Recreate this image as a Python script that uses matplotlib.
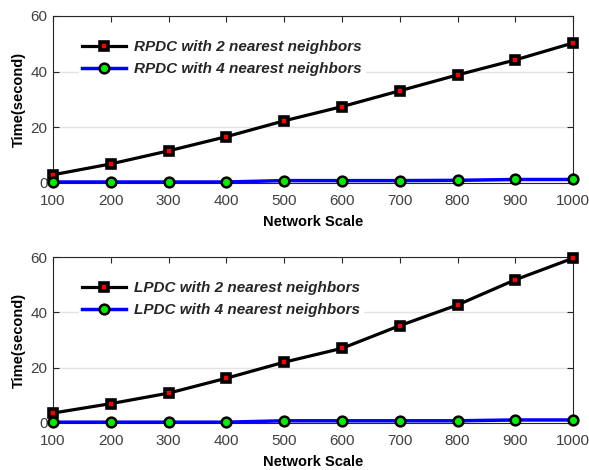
import numpy as np
import matplotlib.pyplot as plt

plt.rcParams["font.family"] = ["Liberation Sans", "DejaVu Sans"]

# network sizes
scale = [100, 200, 300, 400, 500, 600, 700, 800, 900, 1000]

# running time (s)
rpdc_2nn = [2.9, 6.8, 11.5, 16.6, 22.3, 27.4, 33.1, 38.8, 44.2, 50.3]
rpdc_4nn = [0.3, 0.3, 0.3, 0.3, 0.8, 0.8, 0.8, 0.9, 1.2, 1.2]
lpdc_2nn = [3.6, 7.0, 10.8, 16.2, 22.0, 27.0, 35.2, 42.7, 51.8, 59.6]
lpdc_4nn = [0.3, 0.3, 0.3, 0.3, 0.8, 0.8, 0.8, 0.8, 1.1, 1.1]

panels = [
    ("RPDC", rpdc_2nn, rpdc_4nn),
    ("LPDC", lpdc_2nn, lpdc_4nn),
]

fig = plt.figure(figsize=(5.89, 4.70), dpi=100)
boxes = [[0.090, 0.611, 0.883, 0.355], [0.090, 0.100, 0.883, 0.353]]

for box, (name, two_nn, four_nn) in zip(boxes, panels):
    ax = fig.add_axes(box)
    ax.plot(scale, two_nn, color="black", lw=2.3, marker="s", ms=5.5,
            mfc="red", mec="black", mew=2.6, clip_on=False,
            label=f"{name} with 2 nearest neighbors", zorder=3)
    ax.plot(scale, four_nn, color="blue", lw=2.5, marker="o", ms=7,
            mfc="#00ee00", mec="black", mew=1.8, clip_on=False,
            label=f"{name} with 4 nearest neighbors", zorder=3)

    ax.set_xlim(100, 1000)
    ax.set_ylim(0, 60)
    ax.set_xticks(scale)
    ax.set_yticks([0, 20, 40, 60])
    ax.yaxis.grid(True, color="#e3e3e3", lw=1.0)
    ax.set_axisbelow(True)
    ax.tick_params(direction="in", top=True, right=True, length=4,
                   labelsize=11, colors="#262626", labelcolor="#404040")
    ax.tick_params(axis="x", pad=8)
    ax.tick_params(axis="y", pad=4)
    for s in ax.spines.values():
        s.set_color("#262626")
        s.set_linewidth(0.8)
    ax.set_xlabel("Network Scale", fontsize=10.5, fontweight="bold", labelpad=5)
    ax.set_ylabel("Time(second)", fontsize=10.5, fontweight="bold", labelpad=3)

    leg = ax.legend(loc="upper left", bbox_to_anchor=(0.035, 0.92),
                    frameon=True, framealpha=1, edgecolor="white",
                    prop={"size": 11, "style": "italic", "weight": "bold"},
                    handlelength=2.9, handletextpad=0.5, labelspacing=0.55,
                    borderpad=0.2)
    for t in leg.get_texts():
        t.set_color("#262626")

fig.savefig("out.png", dpi=100)
